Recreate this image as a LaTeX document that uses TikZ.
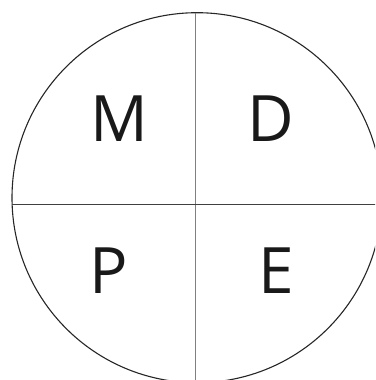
\documentclass[tikz,border=0pt]{standalone}
\usepackage{fontspec}
\setmainfont{Open Sans}
\begin{document}
\begin{tikzpicture}[x=1pt,y=-1pt,
  rim/.style={draw=black!85,line width=1.1pt},
  vline/.style={draw=black!50,line width=1.5pt},
  hline/.style={draw=black!75,line width=1.2pt},
  letter/.style={inner sep=0pt,outer sep=0pt,font=\fontsize{64}{64}\selectfont,text=black!90}]
\useasboundingbox (0,0) rectangle (375,380);
\clip (0,0) rectangle (375,380);
\coordinate (c) at (197,197.7);
\draw[rim] (c) circle[radius=185];
\coordinate (vt) at (195.7,12.7);
\coordinate (vb) at (195.7,382);
\coordinate (hl) at (12.1,204.7);
\coordinate (hr) at (377,204.7);
\draw[vline] (vt) -- (vb);
\draw[hline] (hl) -- (hr);
\node[letter,anchor=base west] (M) at (90,141.7) {M};
\node[letter,anchor=base east] (D) at (294,141.7) {D};
\node[letter,anchor=base west] (P) at (89,293.3) {P};
\node[letter,anchor=base east] (E) at (294,293.3) {E};
\end{tikzpicture}
\end{document}
